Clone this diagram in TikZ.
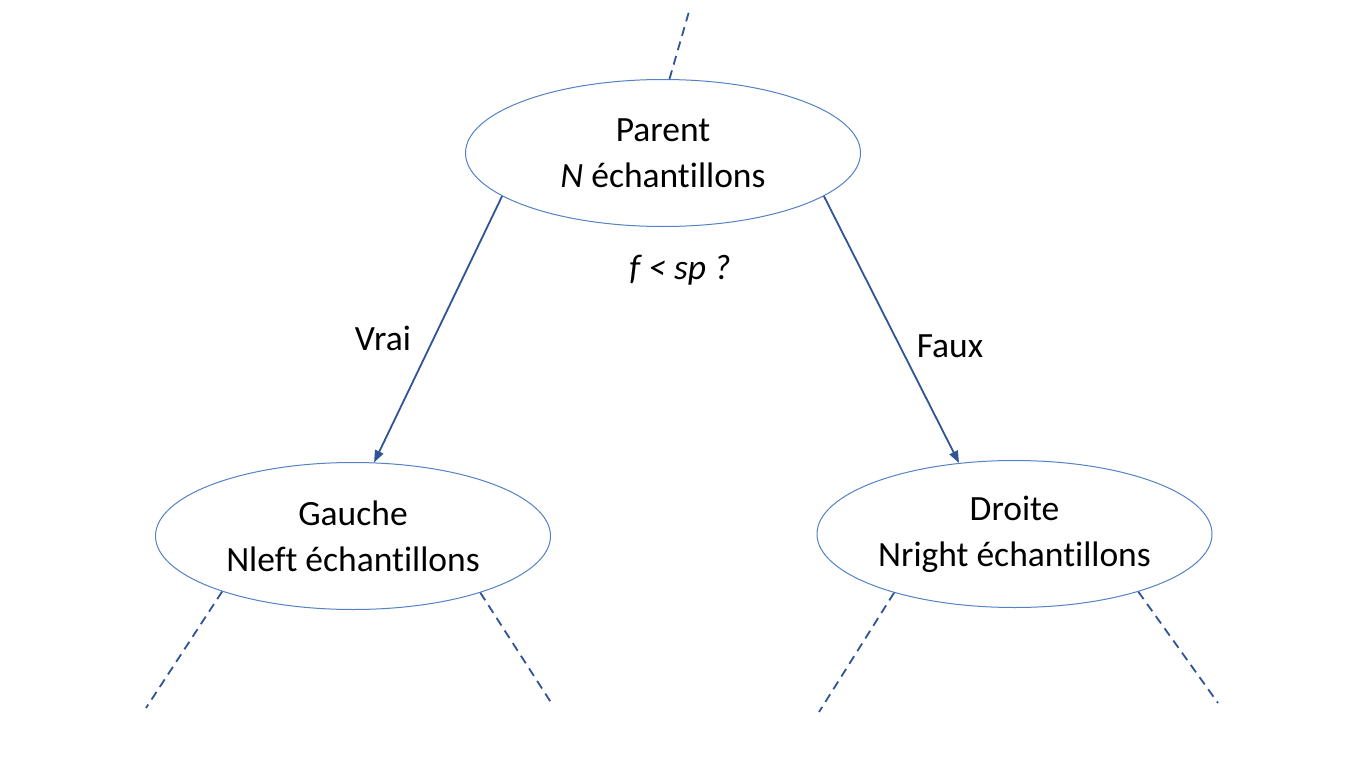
\documentclass[tikz,border=0pt]{standalone}
\usepackage{fontspec}
\setmainfont{Carlito}[Ligatures=NoCommon]
\usetikzlibrary{shapes.geometric,arrows.meta}
\definecolor{ellblue}{RGB}{84,130,196}
\definecolor{arrblue}{RGB}{47,85,151}
\tikzset{
  nodeell/.style={draw=ellblue, line width=1pt, ellipse, minimum width=395pt, minimum height=147pt, inner sep=0pt, align=center, font=\fontsize{35.5}{46}\selectfont},
  branch/.style={draw=arrblue, line width=1.8pt, -{Triangle[length=12pt,width=9pt]}},
  subtree/.style={draw=arrblue, line width=1.8pt, dash pattern=on 9pt off 6pt},
  lbl/.style={font=\fontsize{35.5}{40}\selectfont}
}
\begin{document}
\begin{tikzpicture}[x=1pt,y=-1pt]
    \useasboundingbox[fill=white] (0,0) rectangle (1365,768);
    % Ellipses
    \node[nodeell] (parent) at (663,153) {Parent\\\textit{N} échantillons};
    \node[nodeell] (gauche) at (353,536) {Gauche\\Nleft échantillons};
    \node[nodeell] (droite) at (1014.5,534) {Droite\\Nright échantillons};

    % Free ends of the dashed lines
    \coordinate (top) at (690,8);
    \coordinate (gl) at (146,708);
    \coordinate (gr) at (552,704);
    \coordinate (dl) at (819,712);
    \coordinate (dr) at (1218,703);

    % Straight Lines
    \draw[branch] (parent.195.9) -- (gauche.74.5);
    \draw[branch] (parent.345.4) -- (droite.128.6);
    \draw[subtree] (parent.85.4) -- (top);
    \draw[subtree] (gauche.203.9) -- (gl);
    \draw[subtree] (gauche.336.1) -- (gr);
    \draw[subtree] (droite.206.5) -- (dl);
    \draw[subtree] (droite.335.8) -- (dr);

    % Text Nodes
    \node[lbl] (test) at (680,270) {\itshape f < sp ?};
    \node[lbl] (vrai) at (383,338) {Vrai};
    \node[lbl] (faux) at (950,346) {Faux};
\end{tikzpicture}
\end{document}
